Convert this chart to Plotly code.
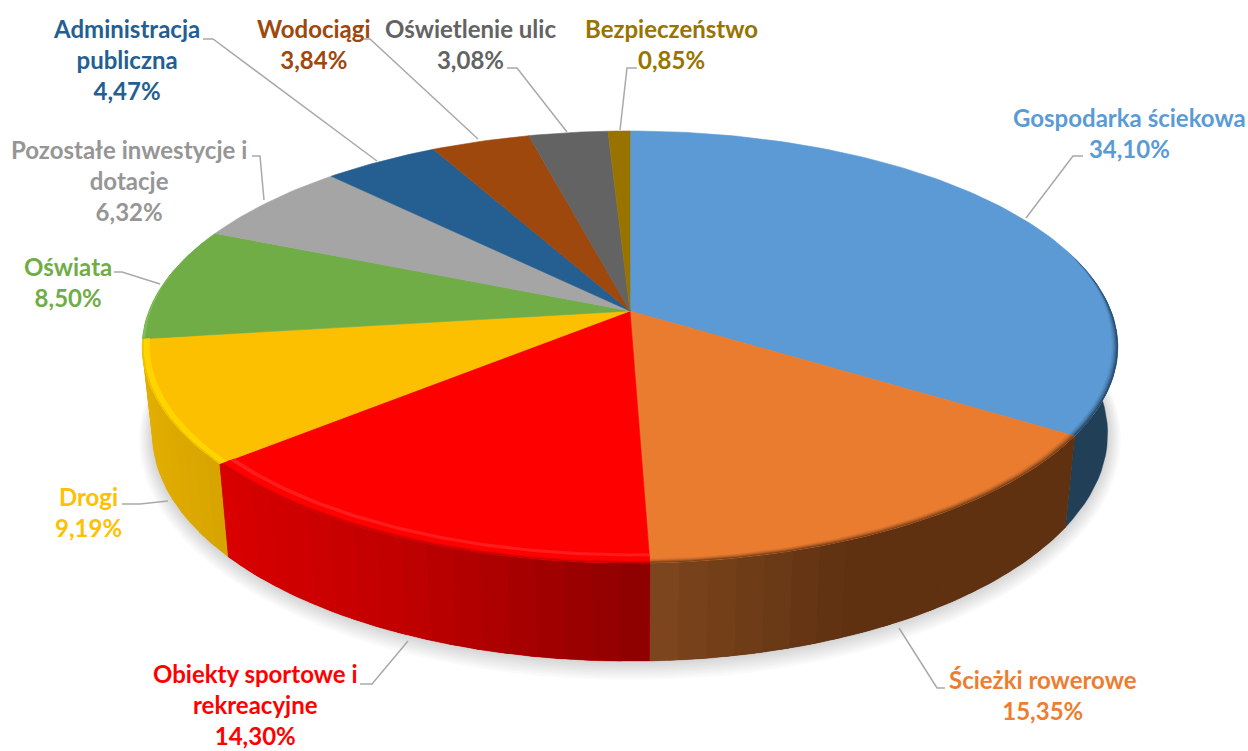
import math
import plotly.graph_objects as go

# ---- data ----
categories = ["Gospodarka ściekowa", "Ścieżki rowerowe", "Obiekty sportowe i<br>rekreacyjne", "Drogi",
              "Oświata", "Pozostałe inwestycje i<br>dotacje", "Administracja<br>publiczna", "Wodociągi",
              "Oświetlenie ulic", "Bezpieczeństwo"]
values = [34.10, 15.35, 14.30, 9.19, 8.50, 6.32, 4.47, 3.84, 3.08, 0.85]

# ---- styles ----
top_colors = ["#5b9ad5", "#ea7c2f", "#ff0000", "#fcc000", "#70ad47", "#a5a5a5", "#255e91", "#9e480e", "#636363", "#997300"]
text_colors = ["#5b9bd5", "#ed7d31", "#ff0000", "#ffc000", "#70ad47", "#969696", "#255e91", "#9e480e", "#636363", "#997300"]
# wall colour as a function of screen x
wall_stops = [
    [(0, "#223f58"), (1248, "#223f58")],
    [(650, "#7e471e"), (850, "#5f3111"), (1248, "#5f3111")],
    [(225, "#d80000"), (400, "#c00000"), (650, "#8c0000")],
    [(140, "#e2ae00"), (229, "#d6a200")],
    [(0, "#5c8f3a"), (1248, "#5c8f3a")],
    [(0, "#888888"), (1248, "#888888")],
    [(0, "#1c4870"), (1248, "#1c4870")],
    [(0, "#7a370a"), (1248, "#7a370a")],
    [(0, "#4c4c4c"), (1248, "#4c4c4c")],
    [(0, "#755800"), (1248, "#755800")],
]
# rim bevel: (relative width, colour), drawn widest first
rim_bands = [
    [(.012, "#5590c8"), (.009, "#4c82b6"), (.0065, "#41709d"), (.004, "#355c80"), (.002, "#2a4b69")],
    [(.014, "#e07730"), (.011, "#d06e2b"), (.008, "#b66026"), (.005, "#9a5220"), (.0025, "#7b431a")],
    [(.032, "#ff1c1c"), (.022, "#ff0000"), (.007, "#e00000"), (.003, "#c00000")],
    [(.015, "#ffd500"), (.003, "#f0c000")],
    [(.005, "#7fbd55")],
    [], [], [], [], [],
]
# label block centres and leader lines (page layout, in pixels)
label_pos = [(1129, 133), (1043, 695), (255, 704), (88, 512), (68, 282), (129, 180), (126, 59), (314, 44), (470, 44), (671, 44)]
leaders = [
    [(1083, 156), (1073, 156), (1026, 218)],
    [(945, 688), (937, 688), (899, 628)],
    [(360, 684), (372, 684), (408, 641)],
    [(122, 504), (140, 504), (168, 501)],
    [(114, 272), (122, 272), (160, 284)],
    [(252, 156), (260, 156), (264, 200)],
    [(203, 39), (213, 39), (377, 161)],
    [(361, 39), (370, 39), (478, 139)],
    [(507, 68), (517, 68), (567, 132)],
    [(637, 68), (627, 68), (620, 130)],
]

# ---- projection of the disc, tilted with perspective ----
P = 1 / 6
TOP = dict(cx=630, cy=311, a=481, b=210)
BOTTOM = dict(cx=630, cy=396, a=471, b=221)


def project(deg, r=1.0, plane=TOP, grow=(0, 0)):
    t = math.radians(deg)
    u, v = r * math.sin(t), r * math.cos(t)
    w = 1 + P * v
    return plane["cx"] + (plane["a"] + grow[0]) * u / w, plane["cy"] - (plane["b"] + grow[1]) * v / w


def angles(a0, a1, step=1.0):
    n = max(1, int(math.ceil((a1 - a0) / step)))
    return [a0 + (a1 - a0) * i / n for i in range(n + 1)]


def hex_mix(c0, c1, f):
    p = [int(c0[i:i + 2], 16) for i in (1, 3, 5)]
    q = [int(c1[i:i + 2], 16) for i in (1, 3, 5)]
    return "#%02x%02x%02x" % tuple(round(a + (b - a) * f) for a, b in zip(p, q))


def stop_color(stops, x):
    if x <= stops[0][0]:
        return stops[0][1]
    for (x0, c0), (x1, c1) in zip(stops, stops[1:]):
        if x <= x1:
            return hex_mix(c0, c1, (x - x0) / (x1 - x0))
    return stops[-1][1]


fig = go.Figure()


def poly(pts, color, stroke=0.6):
    fig.add_trace(go.Scatter(
        x=[p[0] for p in pts] + [pts[0][0]], y=[p[1] for p in pts] + [pts[0][1]],
        mode="lines", fill="toself", fillcolor=color, line=dict(color=color, width=stroke),
        hoverinfo="skip", showlegend=False))


# soft shadow under the disc
for k in range(8, 0, -1):
    ring = [project(d, 1, dict(BOTTOM, cy=BOTTOM["cy"] + 0.4 * k), (1.6 * k, 1.6 * k)) for d in angles(0, 360, 3)]
    poly(ring, "rgba(0,0,0,0.018)")

# slice boundaries from the values
total = sum(values)
bounds = [0.0]
for val in values:
    bounds.append(bounds[-1] + val / total * 360)

# side wall, front half only, far slices first
wall_order = sorted(range(len(values)), key=lambda n: -abs(180 - (bounds[n] + bounds[n + 1]) / 2))
for i in wall_order:
    a0, a1 = max(bounds[i], 75), min(bounds[i + 1], 290)
    if a1 <= a0:
        continue
    seq = angles(a0, a1, 2.0)
    xmid = project((a0 + a1) / 2)[0]
    # one solid piece first so that no seam lets the background through
    poly([project(d) for d in seq] + [project(d, 1, BOTTOM) for d in reversed(seq)],
         stop_color(wall_stops[i], xmid), 0.4)
    if len({c for _, c in wall_stops[i]}) > 1:
        bands = angles(a0, a1, 3.0)
        for d0, d1 in zip(bands, bands[1:]):
            # overlap each band with the next one, left to right on screen
            colr = stop_color(wall_stops[i], project((d0 + d1) / 2)[0])
            dd = 1.0 if d1 < a1 else 0.0
            poly([project(d0), project(d1 + dd), project(d1 + dd, 1, BOTTOM), project(d0, 1, BOTTOM)], colr, 0)

# top face
for i in range(len(values)):
    poly([(TOP["cx"], TOP["cy"])] + [project(d) for d in angles(bounds[i], bounds[i + 1])], top_colors[i])


# rim bevel, fading towards the far side
def fade(deg):
    v = math.cos(math.radians(deg))
    return max(0.0, min(1.0, (0.30 - v) / 0.40))


for i in range(len(values)):
    a0, a1 = max(bounds[i], 73), min(bounds[i + 1], 287)
    if a1 <= a0:
        continue
    for width, col in rim_bands[i]:
        seq = angles(a0, a1, 1.0)
        poly([project(d) for d in seq] + [project(d, 1 - width * fade(d)) for d in reversed(seq)], col, 0)

# leader lines
for line in leaders:
    fig.add_trace(go.Scatter(x=[p[0] for p in line], y=[p[1] for p in line], mode="lines",
                             line=dict(color="#a9a9a9", width=1.5), hoverinfo="skip", showlegend=False))

# labels
for name, val, col, (lx, ly) in zip(categories, values, text_colors, label_pos):
    pct = f"{val:.2f}%".replace(".", ",")
    fig.add_annotation(x=lx, y=ly, xref="x", yref="y", showarrow=False, align="center",
                       xanchor="center", yanchor="middle", text=f"<b>{name}<br>{pct}</b>",
                       font=dict(family="Lato, Carlito, sans-serif", size=24, color=col))

fig.update_layout(
    width=1248, height=751, margin=dict(l=0, r=0, t=0, b=0),
    paper_bgcolor="white", plot_bgcolor="white", showlegend=False,
    xaxis=dict(range=[0, 1248], visible=False, fixedrange=True),
    yaxis=dict(range=[751, 0], visible=False, fixedrange=True),
)
fig.write_html("out.html", config={"displayModeBar": False},
               post_script="document.body.style.margin='0';document.documentElement.style.overflow='hidden';")
